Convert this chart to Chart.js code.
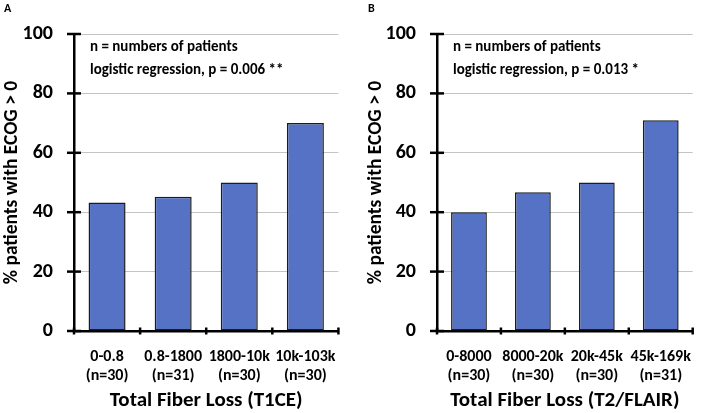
<!DOCTYPE html>
<html>
<head>
<meta charset="utf-8">
<script src="https://cdn.jsdelivr.net/npm/chart.js@4.4.0/dist/chart.umd.min.js"></script>
<style>
  html, body { margin: 0; padding: 0; background: #fff; }
  #wrap { position: relative; width: 708px; height: 413px; }
  canvas { position: absolute; top: 0; }
  #chartA { left: 0; }
  #chartB { left: 354px; }
</style>
</head>
<body>
<div id="wrap">
  <canvas id="chartA" width="354" height="413"></canvas>
  <canvas id="chartB" width="354" height="413"></canvas>
</div>
<script>
// panel A - T1CE
const labelsA = [["0-0.8", "(n=30)"], ["0.8-1800", "(n=31)"], ["1800-10k", "(n=30)"], ["10k-103k", "(n=30)"]];
const valuesA = [43.3, 45.2, 50.0, 70.0];
const notesA = ["n = numbers of patients", "logistic regression, p = 0.006 **"];

// panel B - T2/FLAIR
const labelsB = [["0-8000", "(n=30)"], ["8000-20k", "(n=30)"], ["20k-45k", "(n=30)"], ["45k-169k", "(n=31)"]];
const valuesB = [40.0, 46.7, 50.0, 71.0];
const notesB = ["n = numbers of patients", "logistic regression, p = 0.013 *"];

const yTicks = [0, 20, 40, 60, 80, 100];

const FONT = "Carlito, Lato, 'Open Sans', sans-serif";
const W = "bold";
const barColor = "#5572c4";

// draws the little black tick crosses, the notes and the panel letter
const decoPlugin = {
  id: "deco",
  afterDraw(chart, args, opts) {
    const ctx = chart.ctx;
    const x = chart.scales.x, y = chart.scales.y;
    const area = chart.chartArea;
    ctx.save();
    ctx.strokeStyle = "#000";
    ctx.lineWidth = 2.5;
    // y ticks, crossing the axis
    yTicks.forEach(v => {
      const py = y.getPixelForValue(v);
      ctx.beginPath();
      ctx.moveTo(area.left - 7, py);
      ctx.lineTo(area.left + 7, py);
      ctx.stroke();
    });
    // x ticks at category boundaries
    for (let i = 0; i <= x.ticks.length; i++) {
      const px = x.getPixelForValue(i - 0.5);
      ctx.beginPath();
      ctx.moveTo(px, area.bottom - 3.5);
      ctx.lineTo(px, area.bottom + 3.5);
      ctx.stroke();
    }
    // notes
    ctx.fillStyle = "#000";
    ctx.font = W + " 15px " + FONT;
    ctx.textBaseline = "middle";
    ctx.textAlign = "left";
    opts.notes.forEach((t, i) => ctx.fillText(t, area.left + 16, 47 + i * 23));
    // panel letter
    ctx.font = W + " 12px " + FONT;
    ctx.fillText(opts.letter, opts.letterX, 9);
    ctx.restore();
  }
};

const makeChart = (id, labels, values, title, notes, letter, yWidth, padRight, letterX, titlePad) => {
  return new Chart(document.getElementById(id), {
    type: "bar",
    data: {
      labels: labels,
      datasets: [{
        data: values,
        backgroundColor: barColor,
        borderColor: "#1c1c1c",
        borderWidth: 1.5,
        borderSkipped: false,
        categoryPercentage: 1.0,
        barPercentage: 0.56
      }]
    },
    options: {
      responsive: false,
      animation: false,
      layout: { padding: { top: 34, right: padRight, bottom: 0, left: 0 } },
      plugins: {
        legend: { display: false },
        tooltip: { enabled: false },
        deco: { notes: notes, letter: letter, letterX: letterX }
      },
      scales: {
        x: {
          offset: true,
          grid: { display: false, drawTicks: false },
          border: { color: "#000", width: 2.5 },
          ticks: {
            color: "#000",
            padding: 17,
            maxRotation: 0,
            autoSkip: false,
            font: { family: FONT, size: 16, weight: W, lineHeight: 1.15 }
          },
          title: {
            display: true,
            text: title,
            color: "#000",
            padding: 0,
            font: { family: FONT, size: 21, weight: W, lineHeight: 1.2 }
          },
          afterFit: (s) => { s.height = 82; }
        },
        y: {
          min: 0,
          max: 100,
          afterBuildTicks: (s) => { s.ticks = yTicks.map(v => ({ value: v })); },
          grid: { color: "#c4c4c4", lineWidth: 1, drawTicks: false },
          border: { color: "#000", width: 2.5 },
          ticks: {
            color: "#000",
            padding: 21,
            font: { family: FONT, size: 20, weight: W }
          },
          title: {
            display: true,
            text: "% patients with ECOG > 0",
            color: "#000",
            padding: { top: titlePad, bottom: 0 },
            font: { family: FONT, size: 19.5, weight: W, lineHeight: 1.2 }
          },
          afterFit: (s) => { s.width = yWidth; }
        }
      }
    },
    plugins: [decoPlugin]
  });
};

makeChart("chartA", labelsA, valuesA, "Total Fiber Loss (T1CE)", notesA, "A", 74, 12, 4, 0.5);
makeChart("chartB", labelsB, valuesB, "Total Fiber Loss (T2/FLAIR)", notesB, "B", 83, 1, 14, 10.5);
</script>
</body>
</html>
